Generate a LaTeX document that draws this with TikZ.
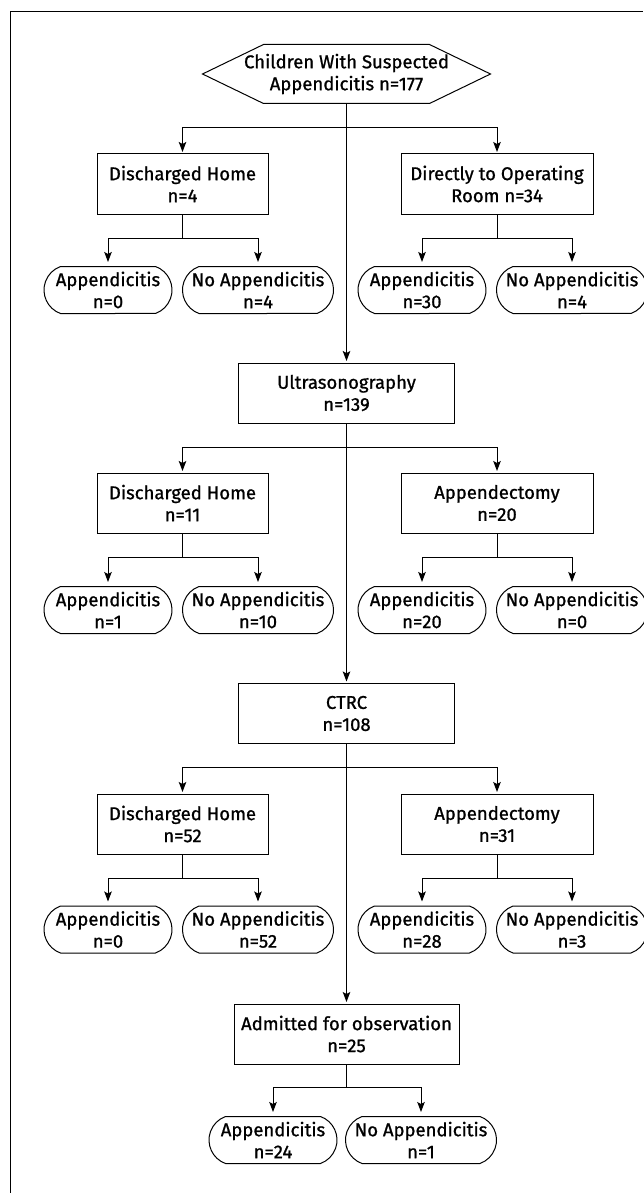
\documentclass[tikz,border=0pt]{standalone}
\usepackage{fontspec}
\setmainfont{Fira Sans}[FakeBold=1]
\usetikzlibrary{arrows.meta, shapes.misc, positioning}

\tikzset{
  boxnode/.style={draw, line width=1pt, minimum height=60pt, align=center,
    inner sep=2pt, font=\fontsize{18.5}{22}\selectfont},
  leafnode/.style={draw, rounded rectangle, rounded rectangle arc length=140,
    line width=1pt, minimum height=47pt, align=center, inner sep=1pt,
    font=\fontsize{18.5}{22}\selectfont},
  arr/.style={line width=1pt, -{Stealth[length=10pt,width=7.5pt,inset=2pt]}, shorten >=1.5pt},
  leafarr/.style={arr, shorten >=4pt}
}

\begin{document}
\begin{tikzpicture}[x=1pt, y=-1pt]
\useasboundingbox (0,0) rectangle (643,1193);
% frame
\draw[line width=1pt] (10,1193) -- (10,12) -- (643,12);

% start
\node[boxnode, draw=none, minimum width=287pt, minimum height=58pt] (root) at (346.5,74)
  {Children With Suspected\\Appendicitis n=177};
\draw[line width=1pt] (root.west) -- ([xshift=61pt]root.north west)
  -- ([xshift=-61pt]root.north east) -- (root.east)
  -- ([xshift=-61pt]root.south east) -- ([xshift=61pt]root.south west) -- cycle;

% first level
\node[boxnode, minimum width=171pt] (home1) at (182.5,184) {Discharged Home\\n=4};
\node[boxnode, minimum width=192pt] (or1) at (497,184) {Directly to Operating\\Room n=34};
\node[leafnode, minimum width=130pt] (app1) at (108,290) {Appendicitis\\n=0};
\node[leafnode, minimum width=153pt] (noapp1) at (258,290) {No Appendicitis\\n=4};
\node[leafnode, minimum width=130pt] (app2) at (422,290) {Appendicitis\\n=30};
\node[leafnode, minimum width=153pt] (noapp2) at (572,290) {No Appendicitis\\n=4};

% ultrasonography
\node[boxnode, minimum width=216pt] (us) at (346.5,393) {Ultrasonography\\n=139};
\node[boxnode, minimum width=171pt] (home2) at (182.5,503) {Discharged Home\\n=11};
\node[boxnode, minimum width=192pt] (appy2) at (497,503) {Appendectomy\\n=20};
\node[leafnode, minimum width=130pt] (app3) at (108,610) {Appendicitis\\n=1};
\node[leafnode, minimum width=153pt] (noapp3) at (258,610) {No Appendicitis\\n=10};
\node[leafnode, minimum width=130pt] (app4) at (422,610) {Appendicitis\\n=20};
\node[leafnode, minimum width=153pt] (noapp4) at (572,610) {No Appendicitis\\n=0};

% ctrc
\node[boxnode, minimum width=216pt] (ct) at (346.5,713.5) {CTRC\\n=108};
\node[boxnode, minimum width=171pt] (home3) at (182.5,824) {Discharged Home\\n=52};
\node[boxnode, minimum width=192pt] (appy3) at (497,824) {Appendectomy\\n=31};
\node[leafnode, minimum width=130pt] (app5) at (108,929.5) {Appendicitis\\n=0};
\node[leafnode, minimum width=153pt] (noapp5) at (258,929.5) {No Appendicitis\\n=52};
\node[leafnode, minimum width=130pt] (app6) at (422,929.5) {Appendicitis\\n=28};
\node[leafnode, minimum width=153pt] (noapp6) at (572,929.5) {No Appendicitis\\n=3};

% observation
\node[boxnode, minimum width=225pt] (obs) at (346.5,1034) {Admitted for observation\\n=25};
\node[leafnode, minimum width=130pt] (app7) at (273,1140) {Appendicitis\\n=24};
\node[leafnode, minimum width=153pt] (noapp7) at (421,1140) {No Appendicitis\\n=1};

% main line
\draw[arr] (root.south) -- (us.north);
\draw[arr] (us.south) -- (ct.north);
\draw[arr] (ct.south) -- (obs.north);

% branches
\draw[arr] (root.south) -- ++(0,24) -| (home1.north);
\draw[arr] (root.south) -- ++(0,24) -| (or1.north);
\draw[arr] (us.south) -- ++(0,24) -| (home2.north);
\draw[arr] (us.south) -- ++(0,24) -| (appy2.north);
\draw[arr] (ct.south) -- ++(0,23.5) -| (home3.north);
\draw[arr] (ct.south) -- ++(0,23.5) -| (appy3.north);

% outcomes
\draw[leafarr] (home1.south) -- ++(0,23.5) -| (app1.north);
\draw[leafarr] (home1.south) -- ++(0,23.5) -| (noapp1.north);
\draw[leafarr] (or1.south) -- ++(0,23.5) -| (app2.north);
\draw[leafarr] (or1.south) -- ++(0,23.5) -| (noapp2.north);
\draw[leafarr] (home2.south) -- ++(0,23.5) -| (app3.north);
\draw[leafarr] (home2.south) -- ++(0,23.5) -| (noapp3.north);
\draw[leafarr] (appy2.south) -- ++(0,23.5) -| (app4.north);
\draw[leafarr] (appy2.south) -- ++(0,23.5) -| (noapp4.north);
\draw[leafarr] (home3.south) -- ++(0,23.5) -| (app5.north);
\draw[leafarr] (home3.south) -- ++(0,23.5) -| (noapp5.north);
\draw[leafarr] (appy3.south) -- ++(0,23.5) -| (app6.north);
\draw[leafarr] (appy3.south) -- ++(0,23.5) -| (noapp6.north);
\draw[leafarr] (obs.south) -- ++(0,22.5) -| (app7.north);
\draw[leafarr] (obs.south) -- ++(0,22.5) -| (noapp7.north);
\end{tikzpicture}
\end{document}
